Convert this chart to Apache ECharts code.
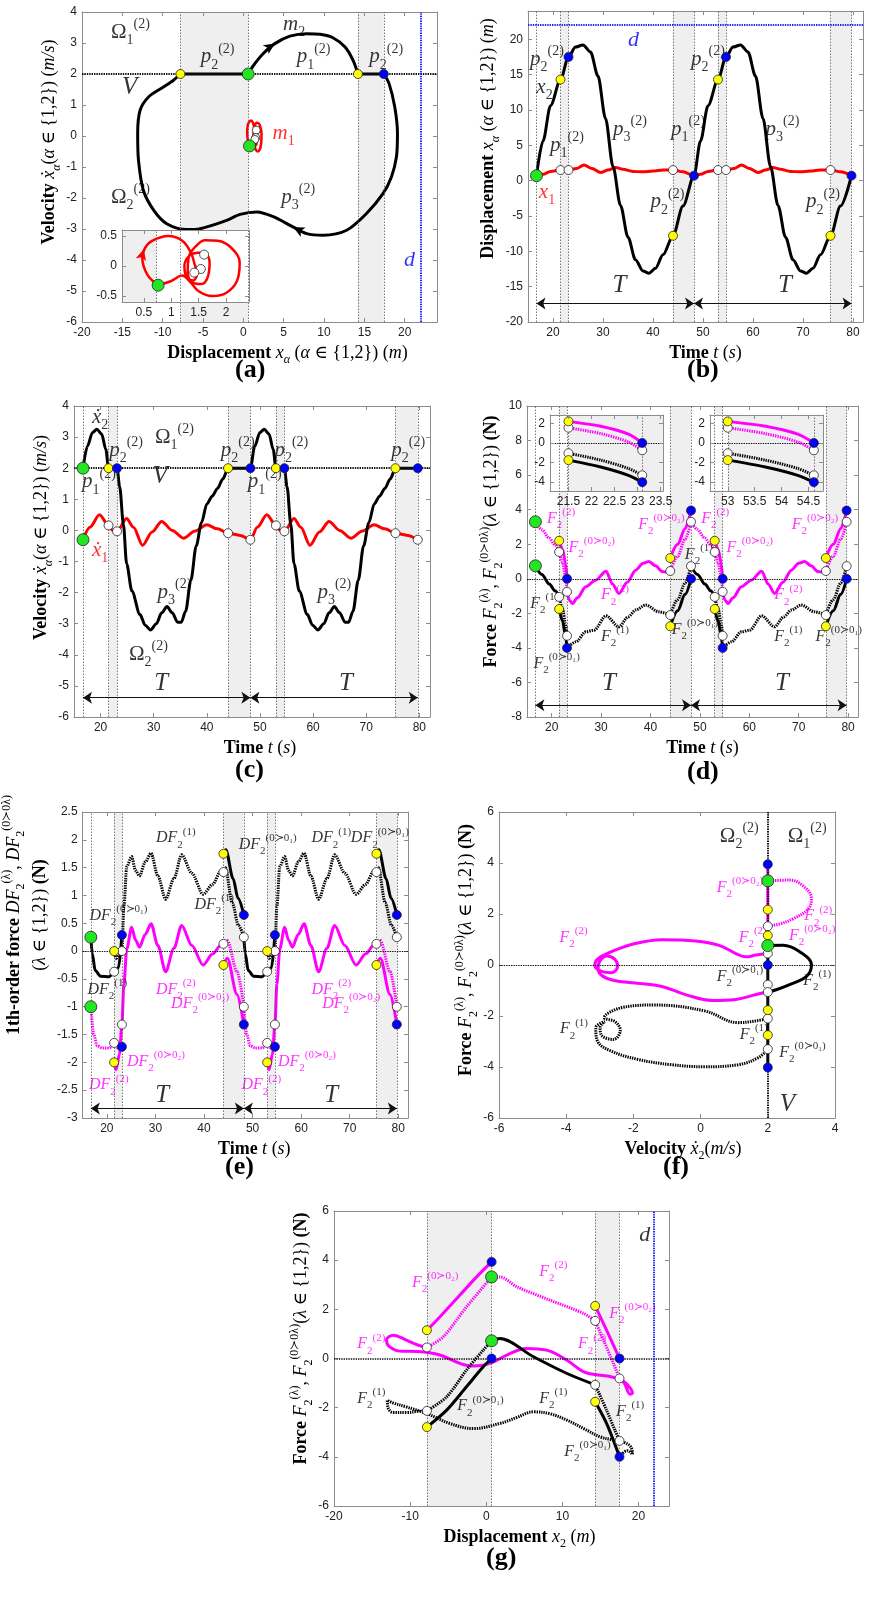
<!DOCTYPE html>
<html>
<head>
<meta charset="utf-8">
<script src="https://cdn.jsdelivr.net/npm/echarts@6.0.0/dist/echarts.min.js"></script>
<style>
  html, body { margin: 0; padding: 0; background: #fff; }
  #main { width: 869px; height: 1597px; }
</style>
</head>
<body>
<div id="main"></div>
<script>
// ---------- values ----------
// time events shared by panels (b)-(e), one period T = 31.5 s
const PERIOD = 31.5;
const T_LINES = [16.7, 21.5, 23.1, 44.0, 48.2, 53.0, 54.6, 75.5, 79.7];
const T_SHADE = [[21.5, 23.1], [44.0, 48.2], [53.0, 54.6], [75.5, 79.7]];
const T_SPANS = [[16.7, 48.2], [48.2, 79.7]];
const T_TICKS = [20, 30, 40, 50, 60, 70, 80];

// (a) phase portrait x - xdot
const aXTicks = [-20, -15, -10, -5, 0, 5, 10, 15, 20];
const aYTicks = [-6, -5, -4, -3, -2, -1, 0, 1, 2, 3, 4];
const aLines = [-7.8, 0.6, 14.2, 17.4];
const aShade = [[-7.8, 0.6], [14.2, 17.4]];
const aUpper = [[0.6,2],[1.24,2.27],[2.47,2.66],[3.9,2.98],[5.77,3.22],[7.84,3.3],[9.5,3.28],[11.1,3.17],[12.6,2.87],[13.6,2.44],[14.2,2]];
const aLower = [[17.4,2],[18.06,1.69],[18.76,0.94],[19.1,0.08],[18.97,-0.68],[18.35,-1.32],[17.3,-1.86],[15.26,-2.5],[12.8,-3.04],[9.9,-3.2],[7.84,-3.15],[6.2,-2.94],[3.7,-2.6],[1.65,-2.45],[-0.41,-2.53],[-2.06,-2.72],[-5.36,-2.99],[-7.0,-3.02],[-9.5,-2.83],[-11.1,-2.4],[-12.4,-1.75],[-13.0,-0.78],[-13.1,0.08],[-12.8,0.83],[-11.75,1.26],[-9.9,1.58],[-8.66,1.8],[-7.8,2]];
const aStick = [[[-7.8,2],[0.6,2]], [[14.2,2],[17.4,2]]];
const aRed = [[0.76,-0.32],[0.56,-0.14],[0.47,0.14],[0.52,0.3],[0.65,0.42],[0.95,0.5],[1.2,0.42],[1.36,0.22],[1.42,0.05],[1.47,-0.12],[1.4,-0.24],[1.28,-0.18],[1.24,0.0],[1.33,0.17],[1.5,0.22],[1.63,0.2],[1.7,0.05],[1.66,-0.2],[1.55,-0.3],[1.4,-0.28],[1.3,-0.1],[1.32,0.15],[1.45,0.33],[1.62,0.43],[1.85,0.42],[2.1,0.3],[2.25,0.05],[2.2,-0.25],[2.0,-0.45],[1.75,-0.5],[1.5,-0.42],[1.33,-0.25],[1.2,-0.16],[1.0,-0.25],[0.76,-0.32]];
const aGreen = [[0.6,2],[0.76,-0.32]];
const aYellow = [[-7.8,2],[14.2,2]];
const aBlue = [[17.4,2]];
const aWhite = [[1.6,0.19],[1.54,-0.05],[1.42,-0.11]];
const aArrows = [[3.9,2.98,-57],[6.2,-2.94,63]];
const aInXTicks = [0.5, 1, 1.5, 2];
const aInYTicks = [-0.5, 0, 0.5];
const aInArrows = [[0.5,0.28,-16]];

// (b) displacement vs time (one period, repeated)
const bYTicks = [-20, -15, -10, -5, 0, 5, 10, 15, 20];
const bX2 = [[16.7,0.7],[18,5.6],[19.5,10.6],[21.5,14.3],[23.1,17.5],[24.5,18.9],[26,19.2],[27.5,18.2],[29,14.8],[30.5,8.8],[32,2.0],[33.5,-3.5],[35,-8.0],[36.5,-11.2],[38,-12.8],[39.2,-13.1],[40.5,-12.4],[42,-10.5],[44,-7.8],[46,-3.6],[48.2,0.7]];
const bX1 = [[16.7,0.7],[18,0.9],[19.5,1.3],[21.5,1.5],[23.1,1.5],[24.7,1.7],[26.2,2.2],[27.8,1.7],[29.5,1.15],[31,1.5],[32.5,1.85],[34,1.6],[36,1.3],[38,1.25],[40,1.35],[42,1.5],[44,1.5],[46,1.25],[48.2,0.7]];
const bGreen = [[16.7,0.7]];
const bYellow = [[21.5,14.3],[44,-7.8]];
const bBlue = [[23.1,17.5],[48.2,0.7]];
const bWhite = [[21.5,1.5],[23.1,1.5],[44,1.5]];

// (c) velocity vs time
const cYTicks = [-6, -5, -4, -3, -2, -1, 0, 1, 2, 3, 4];
const cV2 = [[16.7,2],[17.5,2.7],[18.5,3.15],[19.3,3.25],[20.2,3.1],[21,2.6],[21.5,2.0],[23.1,2.0],[23.6,1.4],[24.3,0.2],[24.9,-1.07],[25.9,-1.95],[27.4,-2.7],[28.4,-3.05],[29.4,-3.2],[30.5,-3.0],[31.5,-2.65],[32.5,-2.45],[33.5,-2.65],[34.5,-2.95],[35.2,-2.95],[36,-2.6],[37,-1.6],[38,-0.5],[39,0.25],[40,0.85],[41,1.1],[42,1.35],[43,1.65],[44,2.0],[48.2,2.0]];
const cV1 = [[16.7,-0.3],[18,0.1],[19.8,0.5],[21.5,0.16],[22.3,0.0],[23.1,-0.03],[24.9,0.38],[26.2,0.1],[27.9,-0.48],[29.7,-0.05],[31.5,0.29],[33.5,0.0],[35.6,-0.25],[37.8,-0.02],[40,0.18],[42,0.05],[44,-0.09],[46.3,-0.16],[48.2,-0.3]];
const cGreen = [[16.7,2],[16.7,-0.3]];
const cYellow = [[21.5,2],[44,2]];
const cBlue = [[23.1,2],[48.2,2]];
const cWhite = [[21.5,0.16],[23.1,-0.03],[44,-0.09],[48.2,-0.3]];

// (d) forces vs time
const dYTicks = [-8, -6, -4, -2, 0, 2, 4, 6, 8, 10];
const dMagStick = [[16.7,3.3],[18,2.85],[19.5,2.35],[20.7,1.95],[21.5,1.55]];
const dMagSlipS = [[21.5,2.2],[22.2,1.7],[22.8,0.9],[23.1,0.0]];
const dMagSlipD = [[21.5,1.55],[22.2,0.95],[22.8,0.1],[23.1,-0.75]];
const dMagWiggle = [[23.1,-0.75],[23.6,-1.25],[24.2,-1.43],[25.2,-1.1],[26.9,-0.46],[28.9,-0.08],[31,0.44],[32.3,-0.3],[33.6,-0.85],[35.3,-0.2],[37,0.5],[38.5,0.9],[39.7,1.0],[41,0.75],[42.4,0.42],[43.3,0.38],[44,0.45]];
const dMagSlip2S = [[44,1.2],[45.5,2.0],[47,2.9],[48.2,3.95]];
const dMagSlip2D = [[44,0.45],[45.5,1.3],[47,2.3],[48.2,3.3]];
const dBlkStick = [[16.7,0.75],[18,0.25],[19.5,-0.3],[20.7,-0.7],[21.5,-1.05]];
const dBlkSlipS = [[21.5,-1.75],[22.2,-2.45],[22.8,-3.3],[23.1,-4.0]];
const dBlkSlipD = [[21.5,-1.05],[22.2,-1.75],[22.8,-2.6],[23.1,-3.3]];
const dBlkWiggle = [[23.1,-4.0],[24.9,-3.65],[26.9,-3.07],[28.6,-2.97],[31,-2.14],[33.6,-2.78],[35.5,-2.2],[37,-1.81],[39,-1.52],[41.7,-1.91],[44,-2.1]];
const dBlkSlip2S = [[44,-2.75],[45.5,-1.85],[47,-0.9],[48.2,0.0]];
const dBlkSlip2D = [[44,-2.1],[45.5,-1.2],[47,-0.25],[48.2,0.73]];
const dGreen = [[16.7,3.3],[16.7,0.75]];
const dYellow = [[21.5,2.2],[21.5,-1.75],[44,1.2],[44,-2.75]];
const dBlue = [[23.1,0],[23.1,-4.0],[48.2,3.95],[48.2,0]];
const dWhite = [[21.5,1.55],[21.5,-1.05],[23.1,-0.75],[23.1,-3.3],[44,0.45],[44,-2.1],[48.2,3.3],[48.2,0.73]];
const dIn1XTicks = [21.5, 22, 22.5, 23, 23.5];
const dIn2XTicks = [53, 53.5, 54, 54.5];
const dInYTicks = [-4, -2, 0, 2];

// (e) first-order forces vs time
const eYTicks = [-3, -2.5, -2, -1.5, -1, -0.5, 0, 0.5, 1, 1.5, 2, 2.5];
const eBlkStick = [[16.7,0.25],[17.0,-0.05],[17.6,-0.35],[18.7,-0.45],[20.5,-0.46],[21.5,-0.37],[22.4,-0.3],[23.1,0.29]];
const eBlkWiggle = [[21.5,0.0],[21.9,-0.13],[22.6,-0.05],[23.1,0.0],[23.5,0.8],[24.1,1.52],[25.1,1.7],[25.9,1.45],[26.7,1.35],[27.9,1.6],[29.1,1.76],[30.5,1.35],[32.1,0.93],[33.8,1.3],[35.4,1.73],[37.5,1.4],[39.8,1.02],[41.8,1.2],[43.4,1.43],[44,1.42]];
const eBlkSlip2S = [[44,1.75],[44.5,1.82],[46,1.3],[47,0.95],[48.2,0.65]];
const eBlkSlip2D = [[44,1.42],[44.4,1.5],[45.8,0.87],[47.1,0.46],[48.2,0.25]];
const eMagStick = [[16.7,-1.0],[17.3,-1.5],[18.0,-1.7],[19.0,-1.74],[20.5,-1.74],[21.5,-1.65],[22.4,-1.75],[23.1,-1.72]];
const eMagWiggle = [[21.5,-2.0],[21.9,-2.13],[22.6,-1.85],[23.1,-1.32],[23.5,-0.6],[24.1,0.04],[25.1,0.43],[25.9,0.2],[26.7,0.07],[27.9,0.3],[29.1,0.49],[30.5,0.1],[32.1,-0.37],[33.8,0.05],[35.4,0.46],[37.5,0.1],[39.8,-0.25],[41.8,-0.05],[43.4,0.1],[44,0.13]];
const eMagSlip2S = [[44,-0.25],[44.8,-0.13],[46.8,-0.78],[48.2,-1.32]];
const eMagSlip2D = [[44,0.13],[44.8,0.19],[46.8,-0.37],[48.2,-1.0]];
const eGreen = [[16.7,0.25],[16.7,-1.0]];
const eYellow = [[21.5,0],[21.5,-2.0],[44,1.75],[44,-0.25]];
const eBlue = [[23.1,0.29],[23.1,-1.72],[48.2,0.65],[48.2,-1.32]];
const eWhite = [[21.5,-0.37],[23.1,0],[21.5,-1.65],[23.1,-1.32],[44,1.42],[44,0.13],[48.2,0.25],[48.2,-1.0]];

// (f) force vs velocity
const fXTicks = [-6, -4, -2, 0, 2, 4];
const fYTicks = [-6, -4, -2, 0, 2, 4, 6];
const fMagRight = [[2,3.3],[2.65,3.33],[3.05,3.1],[3.3,2.6],[3.2,2.19],[2.75,1.81],[2.35,1.61],[2,1.52]];
const fMagLoop = [[2,0.45],[1.65,0.39],[1.35,0.32],[1.05,0.45],[0.55,0.77],[-0.15,0.94],[-1.15,0.99],[-1.95,0.84],[-2.6,0.55],[-3.05,0.25],[-3.15,0.0],[-2.95,-0.25],[-2.65,-0.3],[-2.47,-0.05],[-2.55,0.22],[-2.78,0.35],[-3.0,0.15],[-3.05,-0.15],[-2.95,-0.4],[-2.6,-0.6],[-1.95,-0.71],[-1.15,-0.84],[-0.45,-1.16],[0.35,-1.39],[1.05,-1.35],[1.65,-1.16],[2,-1.06]];
const fBlkRight = [[2,0.76],[2.45,0.77],[2.95,0.52],[3.3,0.0],[3.15,-0.45],[2.65,-0.77],[2.25,-0.97],[2,-1.06]];
const fBlkLoop = [[2,-2.1],[1.62,-2.2],[1.12,-2.26],[0.12,-1.8],[-1.38,-1.57],[-2.37,-1.68],[-2.87,-2.07],[-2.55,-2.22],[-2.39,-2.56],[-2.6,-2.92],[-2.95,-2.75],[-2.99,-2.45],[-2.85,-2.22],[-3.12,-2.46],[-3.07,-2.98],[-2.67,-3.37],[-1.87,-3.7],[-0.87,-3.91],[0.12,-3.99],[1.12,-3.91],[1.72,-3.63],[2,-3.3]];
const fMagVert = [[2,0.45],[2,3.95]];
const fBlkVert = [[2,-4.02],[2,0.76]];
const fGreen = [[2,3.3],[2,0.76]];
const fYellow = [[2,2.17],[2,1.16],[2,-1.77],[2,-2.75]];
const fWhite = [[2,1.52],[2,0.45],[2,-0.77],[2,-1.06],[2,-2.1],[2,-3.3]];
const fBlue = [[2,3.95],[2,0],[2,-4.02]];

// (g) force vs displacement
const gXTicks = [-20, -10, 0, 10, 20];
const gYTicks = [-6, -4, -2, 0, 2, 4, 6];
const gLines = [-7.8, 0.7, 14.3, 17.5];
const gShade = [[-7.8, 0.7], [14.3, 17.5]];
const gMagSolidL = [[-7.8,1.15],[-6.1,1.69],[-3.46,2.58],[-1.27,3.32],[0.7,3.93]];
const gMagDotL = [[-7.8,0.45],[-5.66,0.88],[-2.6,2.1],[0.7,3.32]];
const gMagDotTop = [[0.7,3.32],[1.8,3.32],[4.0,2.92],[8.4,2.37],[12.8,1.83],[14.3,1.53]];
const gMagDotR = [[14.3,1.53],[15.4,0.75],[16.7,-0.2],[17.5,-0.81]];
const gMagSolidR = [[14.3,2.14],[15.8,1.15],[17.5,0.0]];
const gMagWiggle = [[17.5,-0.81],[18.5,-1.05],[19.2,-1.4],[18.9,-1.45],[18.0,-0.95],[16.5,-0.75],[15.0,-0.68],[12.8,-0.54],[10.6,-0.07],[7.9,0.34],[5.3,0.41],[2.7,0.14],[0.5,-0.2],[-1.7,-0.31],[-3.46,-0.2],[-6.1,0.14],[-9.0,0.28],[-11.4,0.3],[-12.8,0.5],[-13.1,0.75],[-12.2,0.95],[-10.5,0.75],[-9.0,0.55],[-7.8,0.45]];
const gBlkSolidTop = [[0.7,0.72],[1.8,0.81],[6.2,0.07],[10.6,-0.61],[14.3,-1.07]];
const gBlkDotR = [[14.3,-1.07],[15.8,-2.1],[16.9,-2.92],[17.5,-3.35]];
const gBlkSolidR = [[14.3,-1.76],[15.8,-2.64],[17.5,-4.0]];
const gBlkSolidL = [[-7.8,-2.79],[-5.2,-2.1],[-2.6,-1.15],[-0.4,-0.34],[0.7,0.0]];
const gBlkDotL = [[-7.8,-2.13],[-5.2,-1.56],[-2.6,-0.47],[-0.4,0.34],[0.7,0.72]];
const gBlkWiggle = [[17.5,-4.0],[18.5,-3.75],[19.2,-3.9],[19.0,-3.6],[18.0,-3.4],[16.5,-3.3],[15.0,-3.19],[12.8,-2.85],[10.6,-2.51],[8.4,-2.25],[6.2,-2.17],[4.0,-2.4],[1.8,-2.64],[-1.7,-2.85],[-4.8,-2.64],[-7.8,-2.24],[-10.5,-1.97],[-12.3,-1.8],[-13.0,-1.7],[-12.9,-2.0],[-12.2,-2.2],[-10.5,-2.2],[-9.0,-2.15],[-7.8,-2.13]];
const gGreen = [[0.7,3.32],[0.7,0.72]];
const gYellow = [[-7.8,1.15],[-7.8,-2.79],[14.3,2.14],[14.3,-1.76]];
const gWhite = [[-7.8,0.45],[-7.8,-2.13],[14.3,1.53],[14.3,-1.07],[17.5,-0.81],[17.5,-3.35]];
const gBlue = [[0.7,3.93],[0.7,0.0],[17.5,0.0],[17.5,-4.0]];

// annotations [x, y, text key]
const aNotesBlk = [[-14.0,3.35,'om1'],[-3.2,2.55,'p2'],[6.3,3.6,'m2'],[8.7,2.55,'p1'],[17.7,2.55,'p2'],[-14.1,1.56,'V'],[-14.0,-1.97,'om2'],[6.8,-1.97,'p3']];
const aNotesRed = [[5.0,0.08,'m1']];
const aNotesBlue = [[20.6,-4.0,'d']];
const bNotesBlk = [[18.8,17.1,'p2'],[18.3,13.2,'x2'],[22.8,5.0,'p1'],[35.4,7.2,'p3'],[47.0,7.2,'p1'],[42.9,-3.0,'p2'],[51.0,17.1,'p2'],[65.9,7.2,'p3'],[74.0,-3.0,'p2'],[33.3,-14.8,'T'],[66.4,-14.8,'T']];
const bNotesRed = [[18.8,-1.7,'x1']];
const bNotesBlue = [[36.1,19.9,'d']];
const cNotesBlk = [[19.9,3.63,'xd2'],[33.9,3.0,'om1'],[24.8,2.56,'p2'],[19.7,1.56,'p1'],[31.2,1.72,'V'],[45.8,2.58,'p2'],[55.9,2.56,'p2'],[50.9,1.56,'p1'],[77.9,2.56,'p2'],[33.9,-2.0,'p3'],[64.0,-2.0,'p3'],[29.0,-3.98,'om2'],[31.4,-4.92,'T'],[66.2,-4.92,'T']];
const cNotesRed = [[19.9,-0.65,'xd1']];
const dNotesMag = [[21.9,3.5,'F2'],[28.1,1.8,'F02'],[32.8,-0.95,'F2'],[42.2,3.15,'F02'],[53.1,3.5,'F2'],[60.1,1.8,'F02'],[67.9,-0.95,'F2'],[73.3,3.15,'F02']];
const dNotesBlk = [[18.5,-1.43,'F1'],[21.0,-4.9,'F01'],[32.8,-3.36,'F1'],[49.8,1.37,'F1'],[49.0,-2.97,'F01'],[67.9,-3.36,'F1'],[78.1,-3.36,'F01'],[31.6,-6.07,'T'],[66.6,-6.07,'T']];
const eNotesBlk = [[34.2,2.03,'DF1'],[53.1,1.91,'DF01'],[42.1,0.84,'DF1'],[22.4,0.64,'DF01'],[20.1,-0.7,'DF1'],[66.2,2.03,'DF1'],[76.2,2.03,'DF01'],[31.4,-2.6,'T'],[66.2,-2.6,'T']];
const eNotesMag = [[34.2,-0.7,'DF2'],[39.2,-0.95,'DF02'],[66.2,-0.7,'DF2'],[70.3,-0.95,'DF02'],[30.1,-1.99,'DF02'],[20.4,-2.41,'DF2'],[61.2,-1.99,'DF02'],[51.8,-2.41,'DF2']];
const fNotesBlk = [[1.15,5.03,'om2'],[3.17,5.03,'om1'],[1.17,-0.45,'F01'],[3.47,-0.62,'F1'],[-3.77,-2.52,'F1'],[1.58,-2.72,'F1'],[3.03,-3.43,'F01'],[2.58,-5.45,'V']];
const fNotesMag = [[1.17,3.03,'F02'],[3.5,1.91,'F2'],[3.32,1.16,'F02'],[1.55,1.06,'F2'],[-3.78,1.06,'F2']];
const gNotesBlk = [[20.8,5.02,'d'],[-15.1,-1.63,'F1'],[-0.75,-1.94,'F01'],[8.8,-1.63,'F1'],[18.9,-2.17,'F1'],[13.3,-3.8,'F01']];
const gNotesMag = [[8.8,3.53,'F2'],[-6.7,3.08,'F02'],[19.2,1.83,'F02'],[13.9,0.58,'F2'],[-15.1,0.58,'F2']];

// ---------- styles ----------
const SERIF = '"Liberation Serif", "DejaVu Serif", serif';
const SANS = '"Liberation Sans", Arial, sans-serif';
const MAG = '#ff00ff', RED = '#ff0000', BLK = '#000000', BLUE = '#0000ff';
const C_GREEN = '#22e622', C_YEL = '#ffff00', C_BLUE = '#0000ff', C_WHITE = '#ffffff';
const DOT = [1.4, 1];
const AXC = '#8c8c8c';

// rich styles for axis names
const RICH = {
  b: {fontFamily: SERIF, fontWeight: 'bold', fontSize: 18, lineHeight: 26},
  n: {fontFamily: SERIF, fontSize: 18, lineHeight: 26},
  i: {fontFamily: SERIF, fontStyle: 'italic', fontSize: 18, lineHeight: 26},
  s: {fontFamily: SERIF, fontSize: 12, lineHeight: 12, verticalAlign: 'bottom'},
  si: {fontFamily: SERIF, fontStyle: 'italic', fontSize: 12, lineHeight: 12, verticalAlign: 'bottom'},
  u: {fontFamily: SERIF, fontSize: 12, lineHeight: 12, verticalAlign: 'top'}
};
// rich styles for the in-plot annotations
const RICH_NOTE = {
  n: {fontFamily: SERIF, fontSize: 21, lineHeight: 30},
  i: {fontFamily: SERIF, fontStyle: 'italic', fontSize: 21, lineHeight: 30},
  s: {fontFamily: SERIF, fontSize: 14, lineHeight: 14, verticalAlign: 'bottom'},
  u: {fontFamily: SERIF, fontSize: 14, lineHeight: 14, verticalAlign: 'top'},
  I: {fontFamily: SERIF, fontStyle: 'italic', fontSize: 16, lineHeight: 24},
  S: {fontFamily: SERIF, fontSize: 11, lineHeight: 11, verticalAlign: 'bottom'},
  U: {fontFamily: SERIF, fontSize: 11, lineHeight: 11, verticalAlign: 'top'},
  L: {fontFamily: SERIF, fontStyle: 'italic', fontSize: 22, lineHeight: 28},
  T: {fontFamily: SERIF, fontStyle: 'italic', fontSize: 25, lineHeight: 30}
};
const TXT = {
  p1: '{i|p}{s|1}{u|(2)}', p2: '{i|p}{s|2}{u|(2)}', p3: '{i|p}{s|3}{u|(2)}',
  om1: '{n|Ω}{s|1}{u|(2)}', om2: '{n|Ω}{s|2}{u|(2)}',
  V: '{T|V}', d: '{L|d}', T: '{T|T}',
  m1: '{i|m}{s|1}', m2: '{i|m}{s|2}', x1: '{i|x}{s|1}', x2: '{i|x}{s|2}',
  xd1: '{i|ẋ}{s|1}', xd2: '{i|ẋ}{s|2}',
  F1: '{I|F}{S|2}{U|(1)}', F2: '{I|F}{S|2}{U|(2)}',
  F01: '{I|F}{S|2}{U|(0≻0₁)}', F02: '{I|F}{S|2}{U|(0≻0₂)}',
  DF1: '{I|DF}{S|2}{U|(1)}', DF2: '{I|DF}{S|2}{U|(2)}',
  DF01: '{I|DF}{S|2}{U|(0≻0₁)}', DF02: '{I|DF}{S|2}{U|(0≻0₂)}'
};
const NAME = {
  dispA: '{b|Displacement} {i|x}{si|α} ({i|α} ∈ {1,2}) ({i|m})',
  velA: '{b|Velocity} {i|ẋ}{si|α}({i|α} ∈ {1,2}) ({i|m/s})',
  time: '{b|Time} {i|t} ({i|s})',
  force: '{b|Force} {i|F}{s|2}{u|(λ)}, {i|F}{s|2}{u|(0≻0λ)}({i|λ} ∈ {1,2}) {b|(N)}',
  dforce: '{b|1th-order force} {i|DF}{s|2}{u|(λ)}, {i|DF}{s|2}{u|(0≻0λ)}\n({i|λ} ∈ {1,2}) {b|(N)}',
  velF: '{b|Velocity} {i|ẋ}{s|2}({i|m/s})',
  dispG: '{b|Displacement} {i|x}{s|2} ({i|m})'
};

// ---------- builders ----------
const grid = [], xAxis = [], yAxis = [], series = [];

function nameStyle(pad) {
  return {fontFamily: SERIF, fontSize: 18, lineHeight: 26, color: '#000', rich: RICH, padding: [0, 0, 0, pad || 0]};
}

function panel(box, xr, yr, xt, yt, o) {
  o = o || {};
  const gi = grid.length;
  const z = o.z || 0;
  grid.push({left: box[0], top: box[1], width: box[2], height: box[3]});
  const base = (ticks) => ({
    type: 'value', gridIndex: gi, z: z ? z + 10 : 2,
    splitLine: {show: false},
    axisLine: {show: true, onZero: false, lineStyle: {color: AXC, width: 1}},
    axisTick: {show: true, inside: true, length: 4, customValues: ticks, lineStyle: {color: AXC}}
  });
  const lab = (ticks) => ({show: true, customValues: ticks, color: '#222', fontFamily: SANS, fontSize: 12, margin: 5});
  const xi = xAxis.length, yi = yAxis.length;
  xAxis.push(Object.assign(base(xt), {position: 'bottom', min: xr[0], max: xr[1], axisLabel: lab(xt),
    name: o.xName || '', nameLocation: 'middle', nameGap: o.xGap || 14, nameTextStyle: nameStyle(o.xPad)}));
  xAxis.push(Object.assign(base(xt), {position: 'top', min: xr[0], max: xr[1], axisLabel: {show: false}}));
  yAxis.push(Object.assign(base(yt), {position: 'left', min: yr[0], max: yr[1], axisLabel: lab(yt),
    name: o.yName || '', nameLocation: 'middle', nameRotate: 90, nameGap: o.yGap || 18, nameTextStyle: nameStyle(o.yPad)}));
  yAxis.push(Object.assign(base(yt), {position: 'right', min: yr[0], max: yr[1], axisLabel: {show: false}}));
  return {x: xi, y: yi, z: z};
}

function vline(v) { return {xAxis: v, lineStyle: {color: '#555', width: 0.8, type: [1.5, 1.5]}}; }
function zero(key, v, w) { return {[key]: v, lineStyle: {color: '#111', width: w || 1, type: DOT}}; }
function dline(key, v) { return {[key]: v, lineStyle: {color: '#2222ff', width: 2, type: DOT}}; }

function frame(p, shades, marks, bg) {
  if (bg) {
    series.push({type: 'line', xAxisIndex: p.x, yAxisIndex: p.y, data: [], z: p.z, silent: true,
      markArea: {silent: true, itemStyle: {color: '#ffffff', opacity: 1}, data: [[{xAxis: bg[0]}, {xAxis: bg[1]}]]}});
  }
  series.push({type: 'line', xAxisIndex: p.x, yAxisIndex: p.y, data: [], z: p.z + 1, silent: true,
    markArea: {silent: true, itemStyle: {color: '#efefef', opacity: 1}, data: shades.map(s => [{xAxis: s[0]}, {xAxis: s[1]}])},
    markLine: {silent: true, symbol: 'none', label: {show: false}, data: marks}});
}

function spans(p, list, y) {
  series.push({type: 'line', xAxisIndex: p.x, yAxisIndex: p.y, data: [], z: p.z + 2, silent: true,
    markLine: {silent: true, symbol: ['arrow', 'arrow'], symbolSize: 9, label: {show: false},
      lineStyle: {color: '#111', width: 1, type: 'solid'},
      data: list.map(s => [{coord: [s[0], y]}, {coord: [s[1], y]}])}});
}

function curve(p, data, color, width, dotted, extra) {
  series.push(Object.assign({type: 'line', xAxisIndex: p.x, yAxisIndex: p.y, data: data, z: p.z + 3,
    silent: true, showSymbol: false, symbol: 'none', smooth: 0.3, clip: true,
    lineStyle: {color: color, width: width, type: dotted ? DOT : 'solid', cap: 'butt'}}, extra || {}));
}

function arrows(list, color) {
  return {markPoint: {silent: true, symbol: 'arrow', symbolSize: [8, 11], label: {show: false},
    itemStyle: {color: color}, data: list.map(a => ({coord: [a[0], a[1]], symbolRotate: a[2]}))}};
}

function dots(p, data, color, size) {
  series.push({type: 'scatter', xAxisIndex: p.x, yAxisIndex: p.y, data: data, z: p.z + 5, silent: true,
    symbol: 'circle', symbolSize: size || 9, clip: false,
    itemStyle: {color: color, borderColor: '#222', borderWidth: 0.8, opacity: 1}});
}

function notes(p, list, color) {
  series.push({type: 'scatter', xAxisIndex: p.x, yAxisIndex: p.y, z: p.z + 4, silent: true,
    symbolSize: 1, itemStyle: {color: 'rgba(0,0,0,0)'},
    label: {show: true, position: 'inside', color: color, fontFamily: SERIF, fontSize: 21, rich: RICH_NOTE},
    data: list.map(n => ({value: [n[0], n[1]], label: {formatter: TXT[n[2]]}}))});
}

const shiftT = (arr, k) => arr.map(q => [+(q[0] + k * PERIOD).toFixed(2), q[1]]);
const twoPeriods = (arr) => arr.concat(shiftT(arr, 1));
const chain = (arr) => arr.concat(shiftT(arr, 1).slice(1));
const TS = {smoothMonotone: 'x'};

function periodic(p, arr, color, width, dotted) {
  curve(p, arr, color, width, dotted, TS);
  curve(p, shiftT(arr, 1), color, width, dotted, TS);
}

function timeDots(p, green, yellow, blue, white) {
  dots(p, twoPeriods(white), C_WHITE, 9);
  dots(p, twoPeriods(yellow), C_YEL, 9);
  dots(p, twoPeriods(blue), C_BLUE, 9);
  dots(p, green, C_GREEN, 12);
}

// ---------- (a) ----------
const pa = panel([82, 12, 355, 310], [-20, 24], [-6, 4], aXTicks, aYTicks,
  {xName: NAME.dispA, xGap: 14, xPad: 56, yName: NAME.velA, yGap: 16, yPad: 50});
frame(pa, aShade, aLines.map(vline).concat([zero('yAxis', 2, 2), dline('xAxis', 22)]));
curve(pa, aUpper, BLK, 3, false, arrows([aArrows[0]], BLK));
curve(pa, aLower, BLK, 3, false, arrows([aArrows[1]], BLK));
aStick.forEach(s => curve(pa, s, BLK, 3, false, {smooth: false}));
curve(pa, aRed, RED, 2.5, false, {smooth: 0.4});
notes(pa, aNotesBlk, BLK);
notes(pa, aNotesRed, RED);
notes(pa, aNotesBlue, BLUE);
dots(pa, aWhite, C_WHITE, 8);
dots(pa, aYellow, C_YEL, 9);
dots(pa, aBlue, C_BLUE, 9);
dots(pa, aGreen, C_GREEN, 12);

// inset of (a)
const pai = panel([122, 230, 127, 72], [0.1, 2.42], [-0.6, 0.6], aInXTicks, aInYTicks, {z: 10});
frame(pai, [[0.1, 0.72]], [vline(0.72)], [0.1, 2.42]);
curve(pai, aRed, RED, 2.5, false, Object.assign({smooth: 0.4}, arrows(aInArrows, RED)));
dots(pai, aWhite, C_WHITE, 9);
dots(pai, [aGreen[1]], C_GREEN, 12);

// ---------- (b) ----------
const pb = panel([528, 11, 335, 311], [15, 82], [-20, 24], T_TICKS, bYTicks,
  {xName: NAME.time, xGap: 14, xPad: 20, yName: NAME.dispA, yGap: 22, yPad: 56});
frame(pb, T_SHADE, T_LINES.map(vline).concat([dline('yAxis', 22)]));
spans(pb, T_SPANS, -17.4);
curve(pb, chain(bX1), RED, 3, false, TS);
curve(pb, chain(bX2), BLK, 3, false, TS);
notes(pb, bNotesBlk, BLK);
notes(pb, bNotesRed, RED);
notes(pb, bNotesBlue, BLUE);
timeDots(pb, bGreen, bYellow, bBlue, bWhite);

// ---------- (c) ----------
const pc = panel([74, 406, 356, 311], [15, 82], [-6, 4], T_TICKS, cYTicks,
  {xName: NAME.time, xGap: 12, xPad: 16, yName: NAME.velA, yGap: 15, yPad: 48});
frame(pc, T_SHADE, T_LINES.map(vline).concat([zero('yAxis', 2, 2)]));
spans(pc, T_SPANS, -5.38);
curve(pc, chain(cV1), RED, 3, false, TS);
curve(pc, chain(cV2), BLK, 3, false, TS);
notes(pc, cNotesBlk, BLK);
notes(pc, cNotesRed, RED);
timeDots(pc, cGreen, cYellow, cBlue, cWhite);

// ---------- (d) ----------
const pd = panel([527, 406, 331, 311], [15, 82], [-8, 10], T_TICKS, dYTicks,
  {xName: NAME.time, xGap: 16, xPad: 20, yName: NAME.force, yGap: 21, yPad: 40});
frame(pd, T_SHADE, T_LINES.map(vline).concat([zero('yAxis', 0, 1)]));
spans(pd, T_SPANS, -7.32);
periodic(pd, dMagStick, MAG, 3, true);
periodic(pd, dMagSlipD, MAG, 3, true);
periodic(pd, dMagSlipS, MAG, 3, false);
periodic(pd, dMagWiggle, MAG, 3, false);
periodic(pd, dMagSlip2D, MAG, 3, true);
periodic(pd, dMagSlip2S, MAG, 3, false);
periodic(pd, dBlkStick, BLK, 3, false);
periodic(pd, dBlkSlipD, BLK, 3, true);
periodic(pd, dBlkSlipS, BLK, 3, false);
periodic(pd, dBlkWiggle, BLK, 3, true);
periodic(pd, dBlkSlip2D, BLK, 3, true);
periodic(pd, dBlkSlip2S, BLK, 3, false);
notes(pd, dNotesMag, MAG);
notes(pd, dNotesBlk, BLK);
timeDots(pd, dGreen, dYellow, dBlue, dWhite);

// insets of (d): the first slip interval of each period
[[[550, 415, 113, 76], [21.1, 23.55], dIn1XTicks, 0], [[710, 415, 113, 76], [52.67, 54.77], dIn2XTicks, 1]].forEach(cfg => {
  const k = cfg[3];
  const pin = panel(cfg[0], cfg[1], [-4.9, 2.85], cfg[2], dInYTicks, {z: 10});
  frame(pin, [[T_SHADE[2 * k][0], cfg[1][1]]], [vline(T_LINES[1 + 4 * k]), vline(T_LINES[2 + 4 * k]), zero('yAxis', 0, 1)], cfg[1]);
  curve(pin, shiftT(dMagSlipD, k), MAG, 3, true);
  curve(pin, shiftT(dMagSlipS, k), MAG, 3, false);
  curve(pin, shiftT(dBlkSlipD, k), BLK, 3, true);
  curve(pin, shiftT(dBlkSlipS, k), BLK, 3, false);
  dots(pin, shiftT(dWhite.slice(0, 4), k), C_WHITE, 9);
  dots(pin, shiftT(dYellow.slice(0, 2), k), C_YEL, 9);
  dots(pin, shiftT(dBlue.slice(0, 2), k), C_BLUE, 9);
});

// ---------- (e) ----------
const pe = panel([74, 812, 334, 306], [15, 82], [-3, 2.5], T_TICKS, eYTicks,
  {xName: NAME.time, xGap: 13, xPad: 18, yName: NAME.dforce, yGap: 20, yPad: 100});
frame(pe, T_SHADE, T_LINES.map(vline).concat([zero('yAxis', 0, 1)]));
spans(pe, T_SPANS, -2.83);
periodic(pe, eMagStick, MAG, 3, true);
periodic(pe, eMagWiggle, MAG, 3, false);
periodic(pe, eMagSlip2D, MAG, 3, true);
periodic(pe, eMagSlip2S, MAG, 3, false);
periodic(pe, eBlkStick, BLK, 3, false);
periodic(pe, eBlkWiggle, BLK, 3, true);
periodic(pe, eBlkSlip2D, BLK, 3, true);
periodic(pe, eBlkSlip2S, BLK, 3, false);
notes(pe, eNotesBlk, BLK);
notes(pe, eNotesMag, MAG);
timeDots(pe, eGreen, eYellow, eBlue, eWhite);

// ---------- (f) ----------
const pf = panel([499, 812, 336, 306], [-6, 4], [-6, 6], fXTicks, fYTicks,
  {xName: NAME.velF, xGap: 13, xPad: 32, yName: NAME.force, yGap: 15, yPad: 30});
frame(pf, [], [zero('yAxis', 0, 1), zero('xAxis', 2, 2)]);
curve(pf, fMagLoop, MAG, 3, false, {smooth: 0.4});
curve(pf, fMagRight, MAG, 3, true, {smooth: 0.4});
curve(pf, fBlkRight, BLK, 3, false, {smooth: 0.4});
curve(pf, fBlkLoop, BLK, 3, true, {smooth: 0.4});
curve(pf, fMagVert, MAG, 3, false, {smooth: false});
curve(pf, fBlkVert, BLK, 3, false, {smooth: false});
notes(pf, fNotesBlk, BLK);
notes(pf, fNotesMag, MAG);
dots(pf, fWhite, C_WHITE, 9);
dots(pf, fYellow, C_YEL, 9);
dots(pf, fBlue, C_BLUE, 9);
dots(pf, fGreen, C_GREEN, 12);

// ---------- (g) ----------
const pg = panel([334, 1211, 335, 295], [-20, 24], [-6, 6], gXTicks, gYTicks,
  {xName: NAME.dispG, xGap: 15, xPad: 36, yName: NAME.force, yGap: 17, yPad: 40});
frame(pg, gShade, gLines.map(vline).concat([zero('yAxis', 0, 1.5), dline('xAxis', 22)]));
curve(pg, gMagWiggle, MAG, 3, false, {smooth: 0.4});
curve(pg, gMagSolidL, MAG, 3, false);
curve(pg, gMagDotL, MAG, 3, true);
curve(pg, gMagDotTop, MAG, 3, true);
curve(pg, gMagDotR, MAG, 3, true);
curve(pg, gMagSolidR, MAG, 3, false);
curve(pg, gBlkWiggle, BLK, 3, true, {smooth: 0.4});
curve(pg, gBlkSolidTop, BLK, 3, false);
curve(pg, gBlkDotR, BLK, 3, true);
curve(pg, gBlkSolidR, BLK, 3, false);
curve(pg, gBlkSolidL, BLK, 3, false);
curve(pg, gBlkDotL, BLK, 3, true);
notes(pg, gNotesBlk, BLK);
notes(pg, gNotesMag, MAG);
dots(pg, gWhite, C_WHITE, 9);
dots(pg, gYellow, C_YEL, 9);
dots(pg, gBlue, C_BLUE, 9);
dots(pg, gGreen, C_GREEN, 12);

// panel letters
const LETTERS = [['(a)', 235, 357], ['(b)', 687, 357], ['(c)', 235, 757], ['(d)', 687, 759],
  ['(e)', 225, 1154], ['(f)', 663, 1154], ['(g)', 486, 1545]];

const chart = echarts.init(document.getElementById('main'), null, {renderer: 'canvas'});
chart.setOption({
  animation: false,
  backgroundColor: '#ffffff',
  textStyle: {fontFamily: SANS},
  title: LETTERS.map(l => ({text: l[0], left: l[1], top: l[2], padding: 0,
    textStyle: {fontFamily: SERIF, fontWeight: 'bold', fontSize: 26, color: '#000'}})),
  grid: grid,
  xAxis: xAxis,
  yAxis: yAxis,
  series: series
});
window.addEventListener('resize', function () { chart.resize(); });
</script>
</body>
</html>
